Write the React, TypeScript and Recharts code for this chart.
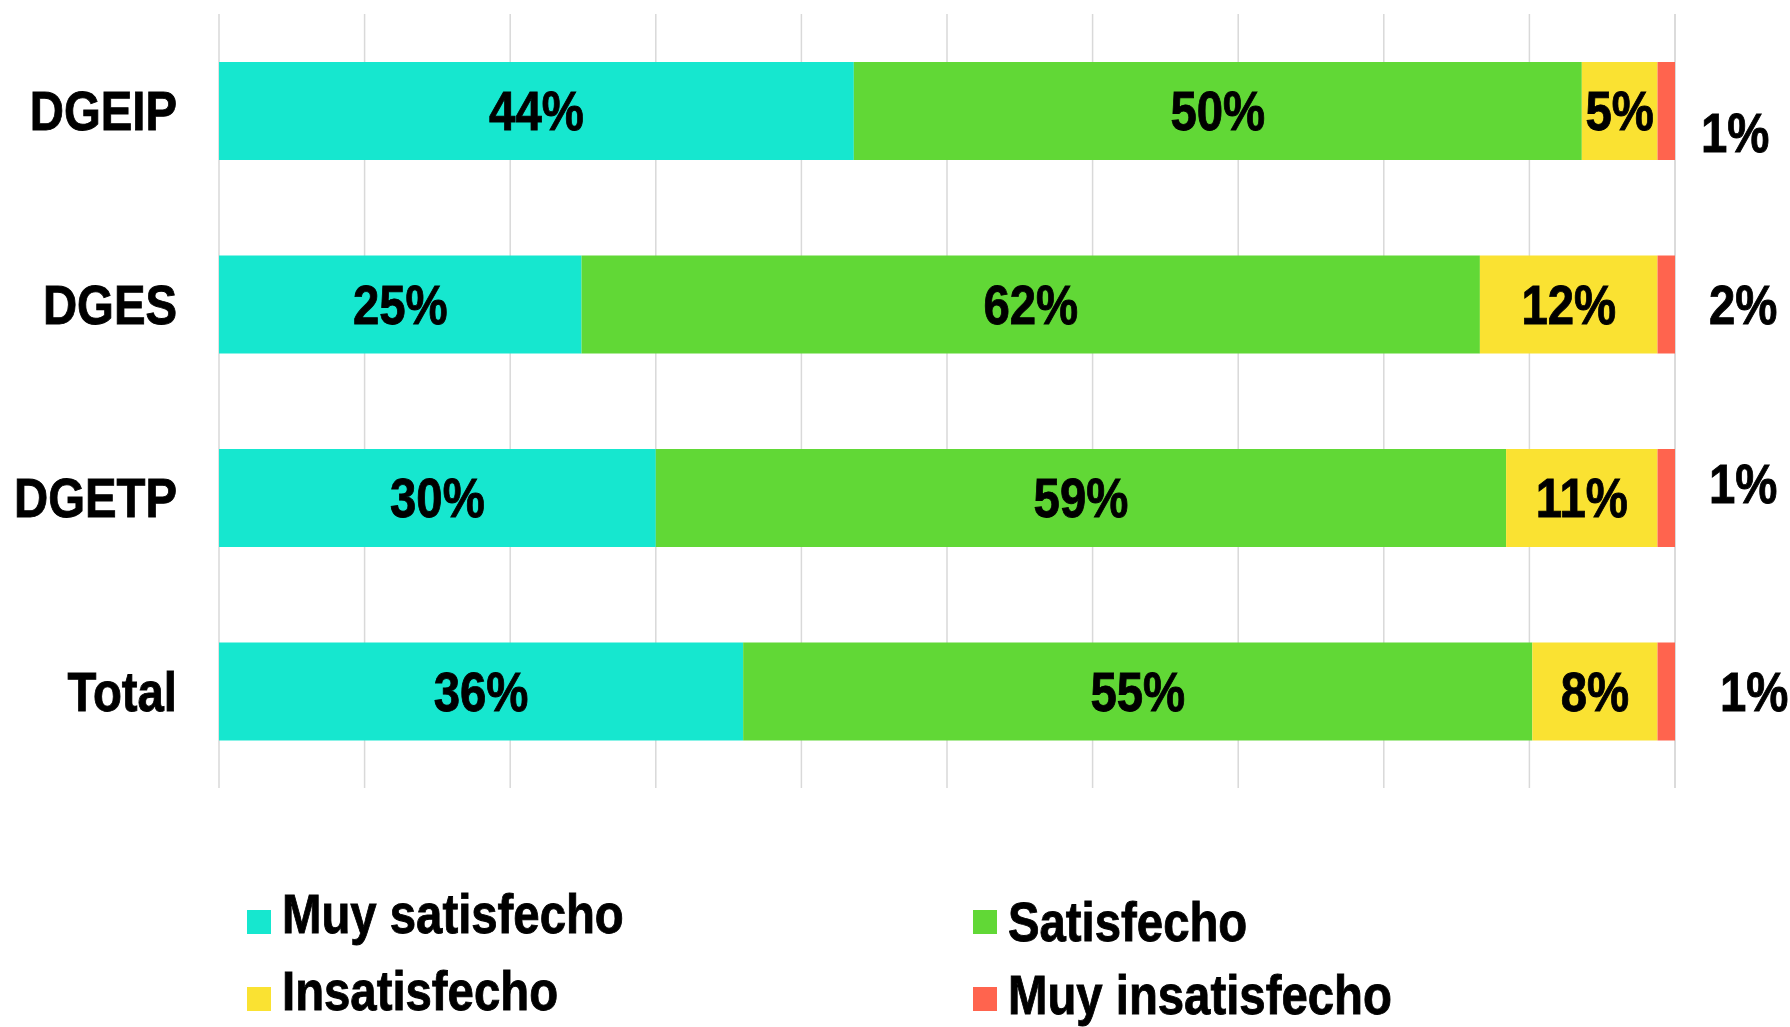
import React from 'react';
import { BarChart, Bar, XAxis, YAxis, CartesianGrid, LabelList, Legend } from 'recharts';

const categories = ['DGEIP', 'DGES', 'DGETP', 'Total'];
const muySatisfecho = [43.6, 24.9, 30.0, 36.0];
const satisfecho = [50.0, 61.7, 58.4, 54.2];
const insatisfecho = [5.2, 12.2, 10.4, 8.6];
const muyInsatisfecho = [1.2, 1.2, 1.2, 1.2];

const muySatisfechoLabels = ['44%', '25%', '30%', '36%'];
const satisfechoLabels = ['50%', '62%', '59%', '55%'];
const insatisfechoLabels = ['5%', '12%', '11%', '8%'];
const muyInsatisfechoLabels = ['1%', '2%', '1%', '1%'];

const xTicks = [0, 10, 20, 30, 40, 50, 60, 70, 80, 90, 100];

const seriesNames = ['Muy satisfecho', 'Satisfecho', 'Insatisfecho', 'Muy insatisfecho'];
const seriesColors = ['#16E7CF', '#61D836', '#FAE232', '#FF644E'];

// label nudges for the outside labels (style only)
const outsideDx = [26, 34, 34, 45];
const outsideDy = [22, 0, -14, 0];

const data = categories.map((name, i) => ({
  name,
  ms: muySatisfecho[i],
  s: satisfecho[i],
  i: insatisfecho[i],
  mi: muyInsatisfecho[i],
  msL: muySatisfechoLabels[i],
  sL: satisfechoLabels[i],
  iL: insatisfechoLabels[i],
  miL: muyInsatisfechoLabels[i],
}));

const FONT = '"Liberation Sans", Arial, sans-serif';
const FS = 56;
const SQUEEZE = 0.845;

const labelStyle = { fontFamily: FONT, fontSize: FS, fontWeight: 700, fill: '#000', stroke: '#000', strokeWidth: 0.9 };

const NarrowText = ({ x, y, anchor, baseline, children }: any) => (
  <text
    transform={`translate(${x} ${y}) scale(${SQUEEZE} 1)`}
    x={0}
    y={0}
    textAnchor={anchor}
    dominantBaseline={baseline}
    style={labelStyle as any}
  >
    {children}
  </text>
);

const YTick = (props: any) => {
  const { x, y, payload } = props;
  return (
    <NarrowText x={x} y={y} anchor="end" baseline="central">
      {payload.value}
    </NarrowText>
  );
};

const CenterLabel = (props: any) => {
  const { x, y, width, height, value } = props;
  return (
    <NarrowText x={Number(x) + Number(width) / 2} y={Number(y) + Number(height) / 2} anchor="middle" baseline="central">
      {value}
    </NarrowText>
  );
};

const OutsideLabel = (props: any) => {
  const { x, y, width, height, index, value } = props;
  const idx = typeof index === 'number' ? index : 0;
  return (
    <NarrowText
      x={Number(x) + Number(width) + outsideDx[idx]}
      y={Number(y) + Number(height) / 2 + outsideDy[idx]}
      anchor="start"
      baseline="central"
    >
      {value}
    </NarrowText>
  );
};

const legendPos = [
  { sx: 247, sy: 910, tx: 282, ty: 933 },
  { sx: 973, sy: 910, tx: 1008, ty: 941 },
  { sx: 247, sy: 987, tx: 282, ty: 1010 },
  { sx: 973, sy: 987, tx: 1008, ty: 1014 },
];

const LegendContent = () => (
  <svg width={1790} height={1027} style={{ position: 'absolute', left: 0, top: 0, overflow: 'visible' }}>
    {seriesNames.map((n, i) => (
      <g key={n}>
        <rect x={legendPos[i].sx} y={legendPos[i].sy} width={24} height={24} fill={seriesColors[i]} />
        <NarrowText x={legendPos[i].tx} y={legendPos[i].ty} anchor="start" baseline="alphabetic">
          {n}
        </NarrowText>
      </g>
    ))}
  </svg>
);

export default function App() {
  return (
    <div style={{ position: 'absolute', left: 0, top: 0, width: 1790, height: 1027, background: '#fff' }}>
      <BarChart
        width={1790}
        height={1027}
        data={data}
        layout="vertical"
        margin={{ top: 14, right: 115, bottom: 239, left: 0 }}
        barSize={98}
      >
        <CartesianGrid horizontal={false} vertical={true} stroke="#d9d9d9" strokeWidth={1.5} />
        <XAxis type="number" domain={[0, 100]} ticks={xTicks} hide />
        <YAxis
          type="category"
          dataKey="name"
          width={219}
          axisLine={false}
          tickLine={false}
          tickSize={0}
          tickMargin={42}
          tick={<YTick />}
        />
        <Legend
          layout="horizontal"
          verticalAlign="middle"
          align="center"
          wrapperStyle={{ left: 0, top: 0, width: 1790, height: 1027, pointerEvents: 'none' }}
          content={<LegendContent />}
        />
        <Bar dataKey="ms" name={seriesNames[0]} stackId="a" fill={seriesColors[0]} isAnimationActive={false}>
          <LabelList dataKey="msL" content={<CenterLabel />} />
        </Bar>
        <Bar dataKey="s" name={seriesNames[1]} stackId="a" fill={seriesColors[1]} isAnimationActive={false}>
          <LabelList dataKey="sL" content={<CenterLabel />} />
        </Bar>
        <Bar dataKey="i" name={seriesNames[2]} stackId="a" fill={seriesColors[2]} isAnimationActive={false}>
          <LabelList dataKey="iL" content={<CenterLabel />} />
        </Bar>
        <Bar dataKey="mi" name={seriesNames[3]} stackId="a" fill={seriesColors[3]} isAnimationActive={false}>
          <LabelList dataKey="miL" content={<OutsideLabel />} />
        </Bar>
      </BarChart>
    </div>
  );
}
